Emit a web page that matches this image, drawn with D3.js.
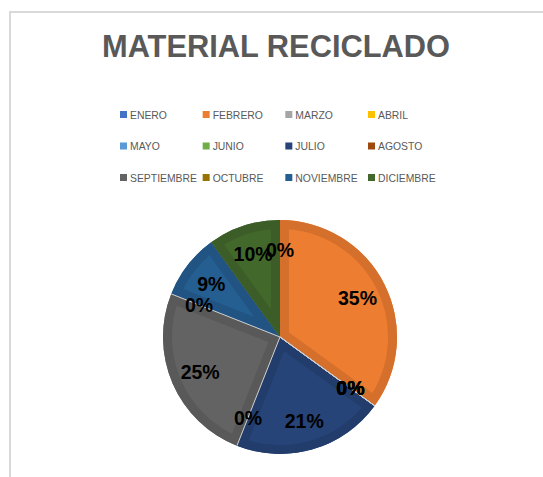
<!DOCTYPE html>
<html lang="es">
<head>
  <meta charset="UTF-8">
  <title>Material reciclado</title>
  <script src="https://d3js.org/d3.v7.min.js"></script>
  <style>
    body {
      margin: 0;
      background: #fff;
      font-family: "Liberation Sans", Arial, sans-serif;
    }
  </style>
</head>
<body>
<svg id="chart" width="543" height="477"></svg>

<script>
// months in legend order, values are the share of each month (%)
const months = ["ENERO", "FEBRERO", "MARZO", "ABRIL", "MAYO", "JUNIO",
                "JULIO", "AGOSTO", "SEPTIEMBRE", "OCTUBRE", "NOVIEMBRE", "DICIEMBRE"];
const values = [0, 35, 0, 0, 0, 0, 21, 0, 25, 0, 9, 10];
const colors = ["#4472C4", "#ED7D31", "#A5A5A5", "#FFC000", "#5B9BD5", "#70AD47",
                "#264478", "#9E480E", "#636363", "#997300", "#255E91", "#43682B"];
const title = "MATERIAL RECICLADO";

const data = months.map((m, i) => ({ month: m, value: values[i], color: colors[i] }));

const svg = d3.select("#chart");

// chart area border (left and top edges visible)
svg.append("path")
  .attr("d", "M10,477 L10,12 L543,12")
  .attr("fill", "none")
  .attr("stroke", "#d9d9d9")
  .attr("stroke-width", 2);

// title
svg.append("text")
  .attr("x", 276)
  .attr("y", 57)
  .attr("text-anchor", "middle")
  .attr("font-size", 32)
  .attr("font-weight", "bold")
  .attr("fill", "#595959")
  .attr("textLength", 348)
  .attr("lengthAdjust", "spacingAndGlyphs")
  .text(title);

// legend: 4 columns x 3 rows
const colX = d3.scaleLinear().domain([0, 3]).range([120, 368]);
const rowY = d3.scaleLinear().domain([0, 2]).range([111, 174]);

const legend = svg.append("g")
  .selectAll("g")
  .data(data)
  .join("g")
  .attr("transform", (d, i) => `translate(${colX(i % 4)},${rowY(Math.floor(i / 4))})`);

legend.append("rect")
  .attr("width", 7)
  .attr("height", 7)
  .attr("fill", d => d.color);

legend.append("text")
  .attr("x", 10)
  .attr("y", 7.5)
  .attr("font-size", 10.4)
  .attr("fill", "#595959")
  .text(d => d.month);

// pie
const cx = 280, cy = 337, radius = 117;

const pie = d3.pie().sort(null).value(d => d.value);
const arcs = pie(data);
const arc = d3.arc().innerRadius(0).outerRadius(radius);
const labelArc = d3.arc().innerRadius(87).outerRadius(87);

const g = svg.append("g").attr("transform", `translate(${cx},${cy})`);

const defs = svg.append("defs");
defs.selectAll("clipPath")
  .data(arcs)
  .join("clipPath")
  .attr("id", (d, i) => "clip" + i)
  .append("path")
  .attr("d", arc);

const slices = g.selectAll("g.slice")
  .data(arcs.filter(d => d.data.value > 0))
  .join("g")
  .attr("class", "slice");

slices.append("path")
  .attr("d", arc)
  .attr("fill", d => d.data.color);

// darker inner band along each slice edge
slices.append("path")
  .attr("d", arc)
  .attr("clip-path", d => `url(#clip${d.index})`)
  .attr("fill", "none")
  .attr("stroke", d => d3.color(d.data.color).darker(0.3))
  .attr("stroke-width", 18)
  .attr("stroke-linejoin", "round");

// thin light separators where empty months sit
g.selectAll("line.zero")
  .data(arcs.filter(d => d.data.value === 0 && d.startAngle > 0))
  .join("line")
  .attr("class", "zero")
  .attr("x1", 0)
  .attr("y1", 0)
  .attr("x2", d => radius * Math.sin(d.startAngle))
  .attr("y2", d => -radius * Math.cos(d.startAngle))
  .attr("stroke", "#d0d0d0")
  .attr("stroke-width", 1);

// percentage labels
const total = d3.sum(values);
g.selectAll("text.label")
  .data(arcs)
  .join("text")
  .attr("class", "label")
  .attr("transform", d => `translate(${labelArc.centroid(d)})`)
  .attr("text-anchor", "middle")
  .attr("dy", "0.36em")
  .attr("font-size", 19.5)
  .attr("font-weight", "bold")
  .attr("fill", "#000")
  .text(d => d3.format(".0%")(d.data.value / total));
</script>
</body>
</html>
